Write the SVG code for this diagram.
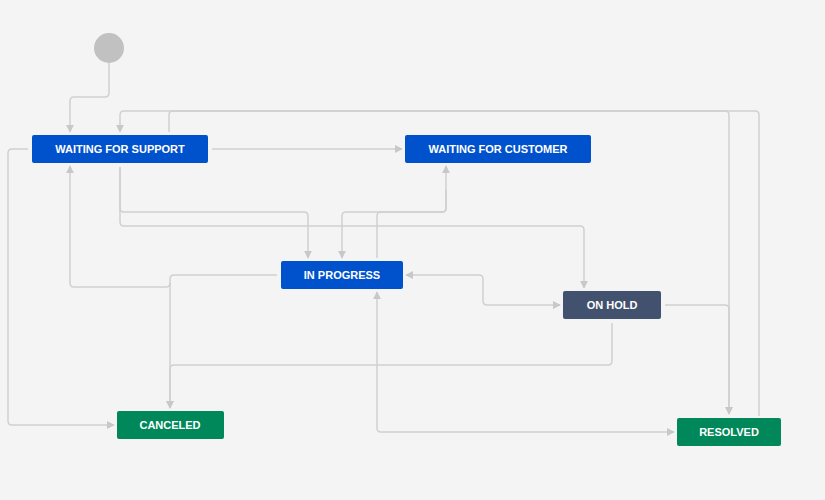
<svg xmlns="http://www.w3.org/2000/svg" width="825" height="500" viewBox="0 0 825 500">
<defs>
<marker id="a" viewBox="0 0 10 10" refX="9" refY="5" markerWidth="8" markerHeight="8" markerUnits="userSpaceOnUse" orient="auto-start-reverse"><path d="M0,0L10,5L0,10z" fill="#c8c8c8"/></marker>
<style>
.e{fill:none;stroke:#d0d0d0;stroke-width:1.5;stroke-linejoin:round}
.n text{fill:#fff;font-family:"Liberation Sans",Arial,sans-serif;font-size:11px;font-weight:bold;text-anchor:middle}
</style>
</defs>
<rect width="825" height="500" fill="#f4f4f4"/>
<g id="connectors">
<path class="e" d="M109,63V93Q109,97 105,97H74Q70,97 70,101V132" marker-end="url(#a)"/>
<path class="e" d="M759,416V115Q759,111 755,111H124Q120,111 120,115V132" marker-end="url(#a)"/>
<path class="e" d="M169,132V115Q169,111 173,111H725Q729,111 729,115V414" marker-end="url(#a)"/>
<path class="e" d="M212,149H402" marker-end="url(#a)"/>
<path class="e" d="M120,167V208Q120,212 124,212H304Q308,212 308,216V258" marker-end="url(#a)"/>
<path class="e" d="M120,167V222Q120,226 124,226H580Q584,226 584,230V288" marker-end="url(#a)"/>
<path class="e" d="M377,258V216Q377,212 381,212H442Q446,212 446,208V166" marker-end="url(#a)"/>
<path class="e" d="M446,190V208Q446,212 442,212H346Q342,212 342,216V258" marker-end="url(#a)"/>
<path class="e" d="M277,275H174Q170,275 170,279V408" marker-end="url(#a)"/>
<path class="e" d="M170,283Q170,287 166,287H74Q70,287 70,283V166" marker-end="url(#a)"/>
<path class="e" d="M406,275H479Q483,275 483,279V301Q483,305 487,305H560" marker-start="url(#a)" marker-end="url(#a)"/>
<path class="e" d="M665,305H725Q729,305 729,309V414" marker-end="url(#a)"/>
<path class="e" d="M612,323V361Q612,365 608,365H174Q170,365 170,369V408" marker-end="url(#a)"/>
<path class="e" d="M28,149H12Q8,149 8,153V421Q8,425 12,425H114" marker-end="url(#a)"/>
<path class="e" d="M377,292V428Q377,432 381,432H674" marker-start="url(#a)" marker-end="url(#a)"/>
</g>
<g id="start"><circle cx="109" cy="48" r="15" fill="#c1c1c1"/></g>
<g id="wfs" class="n"><rect x="32" y="135" width="176" height="28" rx="2" fill="#0052cc"/><text x="120" y="153">WAITING FOR SUPPORT</text></g>
<g id="wfc" class="n"><rect x="405" y="135" width="186" height="28" rx="2" fill="#0052cc"/><text x="498" y="153">WAITING FOR CUSTOMER</text></g>
<g id="ip" class="n"><rect x="281" y="261" width="122" height="28" rx="2" fill="#0052cc"/><text x="342" y="279">IN PROGRESS</text></g>
<g id="oh" class="n"><rect x="563" y="291" width="98" height="28" rx="2" fill="#42526e"/><text x="612" y="309">ON HOLD</text></g>
<g id="can" class="n"><rect x="117" y="411" width="107" height="28" rx="2" fill="#00875a"/><text x="170" y="429">CANCELED</text></g>
<g id="res" class="n"><rect x="677" y="418" width="104" height="28" rx="2" fill="#00875a"/><text x="729" y="436">RESOLVED</text></g>
</svg>
